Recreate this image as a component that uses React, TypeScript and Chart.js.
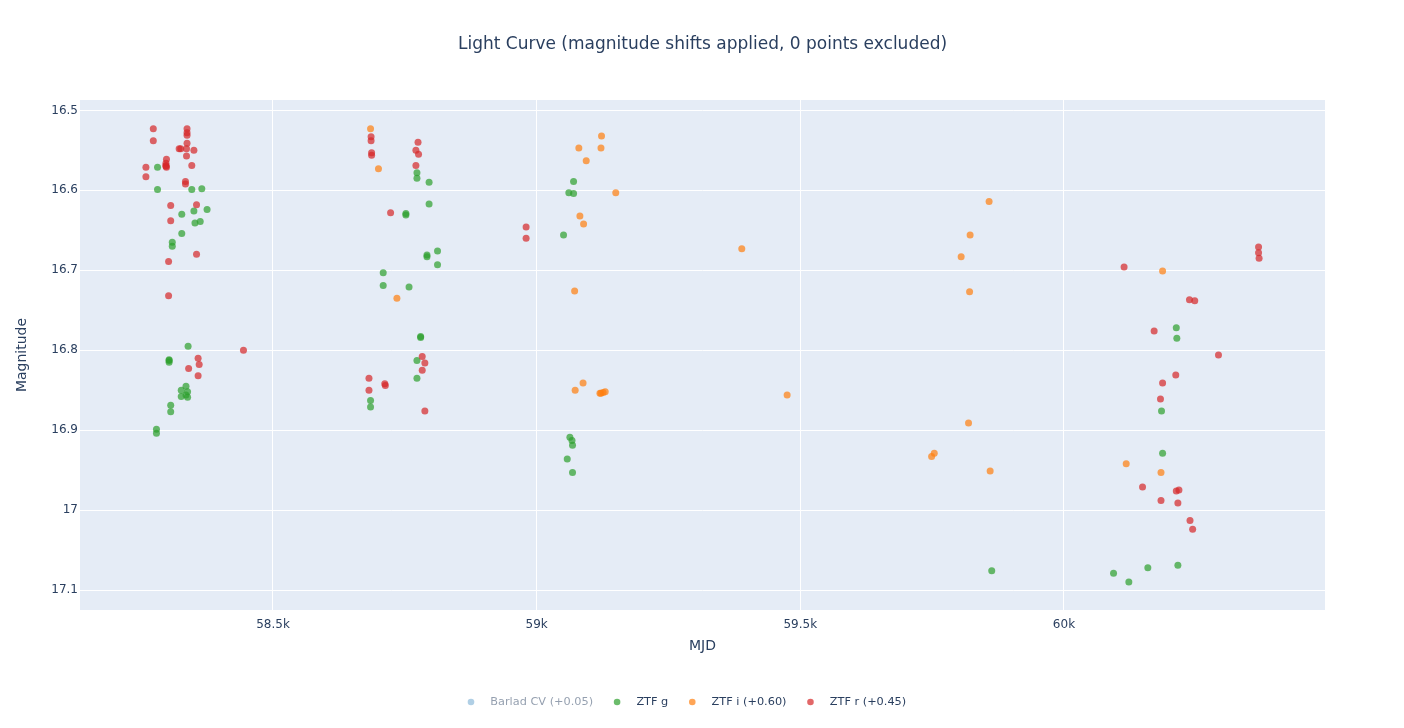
import React, { useEffect, useRef } from "react";
import { Chart, registerables } from "chart.js";

Chart.register(...registerables);

const seriesNames = ["Barlad CV (+0.05)", "ZTF g", "ZTF i (+0.60)", "ZTF r (+0.45)"];
const seriesColors = ["rgba(31,119,180,0.7)", "rgba(44,160,44,0.7)", "rgba(255,127,14,0.7)", "rgba(214,39,40,0.7)"];

const barladMjd: number[] = [];
const barladMag: number[] = [];

const ztfGMjd = [
  58281, 58281, 58346, 58365, 58350, 58375, 58327, 58352, 58362, 58327, 58309, 58309, 58339,
  58303, 58303, 58303, 58335, 58326, 58338, 58335, 58326, 58338, 58306, 58306, 58279, 58279,
  58773, 58773, 58796, 58796, 58752, 58752, 58812, 58792, 58792, 58812, 58709, 58709, 58758,
  58780, 58780, 58773, 58773, 58685, 58685,
  59070, 59061, 59070, 59051, 59063, 59067, 59068, 59058, 59068,
  59863,
  60213, 60214, 60185, 60187, 60216, 60159, 60094, 60123,
];
const ztfGMag = [
  16.571, 16.599, 16.599, 16.598, 16.626, 16.624, 16.63, 16.641, 16.639, 16.654, 16.665, 16.67, 16.795,
  16.812, 16.813, 16.815, 16.845, 16.85, 16.852, 16.856, 16.858, 16.859, 16.869, 16.877, 16.899, 16.904,
  16.578, 16.585, 16.59, 16.617, 16.629, 16.631, 16.676, 16.681, 16.683, 16.693, 16.703, 16.719, 16.721,
  16.783, 16.784, 16.813, 16.835, 16.863, 16.871,
  16.589, 16.603, 16.604, 16.656, 16.909, 16.913, 16.919, 16.936, 16.953,
  17.076,
  16.772, 16.785, 16.876, 16.929, 17.069, 17.072, 17.079, 17.09,
];

const ztfIMjd = [
  58685, 58700, 58735,
  59123, 59080, 59122, 59094, 59150, 59082, 59089, 59072, 59088, 59073, 59120, 59122, 59126, 59130,
  59389, 59475,
  59858, 59822, 59805, 59821, 59819, 59754, 59749, 59860,
  60187, 60118, 60184,
];
const ztfIMag = [
  16.523, 16.573, 16.735,
  16.532, 16.547, 16.547, 16.563, 16.603, 16.632, 16.642, 16.726, 16.841, 16.85, 16.854, 16.854, 16.853, 16.852,
  16.673, 16.856,
  16.614, 16.656, 16.683, 16.727, 16.891, 16.929, 16.933, 16.951,
  16.701, 16.942, 16.953,
];

const ztfRMjd = [
  58273, 58337, 58337, 58337, 58273, 58337, 58322, 58325, 58336, 58350, 58336, 58298, 58297, 58297,
  58297, 58298, 58259, 58346, 58259, 58334, 58334, 58355, 58306, 58306, 58355, 58302, 58302, 58444,
  58358, 58360, 58340, 58358,
  58686, 58686, 58687, 58687, 58775, 58771, 58776, 58771, 58723, 58783, 58788, 58783, 58682, 58712,
  58713, 58682, 58788,
  58980, 58980,
  60114, 60369, 60369, 60370, 60238, 60248, 60171, 60293, 60212, 60187, 60183, 60149, 60184, 60213,
  60218, 60216, 60239, 60244,
];
const ztfRMag = [
  16.523, 16.523, 16.528, 16.531, 16.538, 16.541, 16.548, 16.548, 16.548, 16.55, 16.557, 16.561, 16.566, 16.569,
  16.57, 16.571, 16.571, 16.569, 16.583, 16.589, 16.592, 16.618, 16.619, 16.638, 16.68, 16.689, 16.732, 16.8,
  16.81, 16.818, 16.823, 16.832,
  16.533, 16.538, 16.553, 16.556, 16.54, 16.55, 16.555, 16.569, 16.628, 16.808, 16.816, 16.825, 16.835, 16.842,
  16.844, 16.85, 16.876,
  16.646, 16.66,
  16.696, 16.671, 16.678, 16.685, 16.737, 16.738, 16.776, 16.806, 16.831, 16.841, 16.861, 16.971, 16.988, 16.976,
  16.975, 16.991, 17.013, 17.024,
];

const xTickValues = [58500, 59000, 59500, 60000];
const yTickValues = [16.5, 16.6, 16.7, 16.8, 16.9, 17.0, 17.1];

const FONT = '"DejaVu Sans", verdana, sans-serif';
const TEXT = "#2a3f5f";

const toPoints = (xs: number[], ys: number[]) => xs.map((x, i) => ({ x, y: ys[i] }));

const bgPlugin = {
  id: "plotBg",
  beforeDraw(chart: any) {
    const { ctx, chartArea } = chart;
    ctx.save();
    ctx.fillStyle = "#ffffff";
    ctx.fillRect(0, 0, chart.width, chart.height);
    ctx.fillStyle = "#e5ecf6";
    ctx.fillRect(chartArea.left, chartArea.top, chartArea.right - chartArea.left, chartArea.bottom - chartArea.top);
    ctx.restore();
  },
};

const legendPlugin = {
  id: "plotLegend",
  afterDraw(chart: any) {
    const { ctx } = chart;
    ctx.save();
    ctx.font = `11.3px ${FONT}`;
    ctx.textBaseline = "middle";
    ctx.textAlign = "left";
    const y = 702;
    let x = 471;
    seriesNames.forEach((name, i) => {
      const hidden = i === 0;
      ctx.globalAlpha = hidden ? 0.5 : 1;
      ctx.fillStyle = seriesColors[i];
      ctx.beginPath();
      ctx.arc(x, y, 3.3, 0, Math.PI * 2);
      ctx.fill();
      ctx.fillStyle = TEXT;
      ctx.fillText(name, x + 19.3, y);
      x = x + 19.3 + ctx.measureText(name).width + 24;
    });
    ctx.restore();
  },
};

export default function App() {
  const ref = useRef<HTMLCanvasElement>(null);
  useEffect(() => {
    document.body.style.margin = "0";
    Chart.defaults.font.family = FONT;
    Chart.defaults.color = TEXT;
    const mk = (i: number, xs: number[], ys: number[], order: number, hidden = false) => ({
      label: seriesNames[i],
      data: toPoints(xs, ys),
      backgroundColor: seriesColors[i],
      borderWidth: 0,
      pointRadius: 3.5,
      pointHoverRadius: 3.5,
      showLine: false,
      order,
      hidden,
    });
    const chart = new Chart(ref.current!, {
      type: "scatter",
      data: {
        datasets: [
          mk(0, barladMjd, barladMag, 3, true),
          mk(1, ztfGMjd, ztfGMag, 2),
          mk(2, ztfIMjd, ztfIMag, 1),
          mk(3, ztfRMjd, ztfRMag, 0),
        ] as any,
      },
      options: {
        responsive: false,
        animation: false,
        devicePixelRatio: 1,
        layout: { padding: { left: 14, right: 79, top: 0, bottom: 73.6 } },
        plugins: {
          legend: { display: false },
          tooltip: { enabled: false },
          title: {
            display: true,
            fullSize: false,
            text: "Light Curve (magnitude shifts applied, 0 points excluded)",
            color: TEXT,
            font: { size: 17, weight: "normal", family: FONT, lineHeight: 1.2 },
            padding: { top: 34.8, bottom: 44.8 },
          },
        },
        scales: {
          x: {
            type: "linear",
            min: 58134,
            max: 60495,
            border: { display: false },
            grid: { color: "#ffffff", lineWidth: 1, drawTicks: false },
            afterBuildTicks: (s: any) => {
              s.ticks = xTickValues.map((v) => ({ value: v }));
            },
            afterFit: (s: any) => {
              s.height = 44.4;
            },
            ticks: {
              padding: 8,
              color: TEXT,
              font: { size: 12, family: FONT },
              maxRotation: 0,
              callback: (v: any) => `${Number(v) / 1000}k`,
            },
            title: {
              display: true,
              text: "MJD",
              color: TEXT,
              font: { size: 14, family: FONT, lineHeight: 1.2 },
              padding: 0,
            },
          },
          y: {
            type: "linear",
            reverse: true,
            min: 16.487,
            max: 17.125,
            border: { display: false },
            grid: { color: "#ffffff", lineWidth: 1, drawTicks: false },
            afterBuildTicks: (s: any) => {
              s.ticks = yTickValues.map((v) => ({ value: v }));
            },
            afterFit: (s: any) => {
              s.width = 66;
            },
            ticks: {
              padding: 2,
              color: TEXT,
              font: { size: 12, family: FONT },
              callback: (v: any) => String(Number(Number(v).toFixed(1))),
            },
            title: {
              display: true,
              text: "Magnitude",
              color: TEXT,
              font: { size: 14, family: FONT, lineHeight: 1.2 },
              padding: 0,
            },
          },
        },
      } as any,
      plugins: [bgPlugin, legendPlugin],
    });
    return () => chart.destroy();
  }, []);
  return (
    <div style={{ width: 1404, height: 728, position: "relative" }}>
      <canvas ref={ref} width={1404} height={728} style={{ display: "block" }} />
    </div>
  );
}
